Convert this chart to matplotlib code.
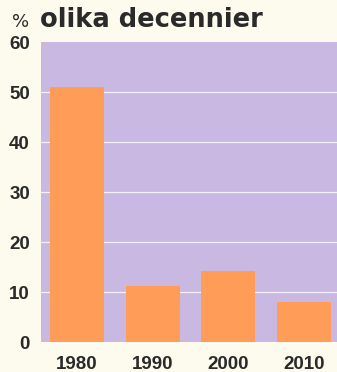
import numpy as np
import matplotlib
matplotlib.use("Agg")
from matplotlib import pyplot as plt

# andel per decennium (%)
years = ["1980", "1990", "2000", "2010"]
share = [51, 11.2, 14.2, 8.1]
yticks = [0, 10, 20, 30, 40, 50, 60]

bg = "#fcfbee"
lavender = "#c8b8e2"
orange = "#ff9d58"
ink = "#2a2a2a"

plt.rcParams["font.family"] = ["Liberation Sans", "DejaVu Sans"]

fig = plt.figure(figsize=(3.37, 3.72), dpi=100, facecolor=bg)
ax = fig.add_axes([0.1217, 0.0806, 0.8783, 0.8064])
ax.set_facecolor(lavender)

x = np.arange(len(years))
ax.bar(x, share, width=0.71, color=orange, zorder=3)

ax.set_ylim(0, 60)
ax.set_xlim(-0.476, 3.436)
ax.set_yticks(yticks)
ax.set_yticklabels([str(t) for t in yticks], fontsize=13.5, fontweight="bold", color=ink)
ax.set_xticks(x)
ax.set_xticklabels(years, fontsize=13.5, fontweight="bold", color=ink)
ax.tick_params(length=0)
ax.tick_params(axis="y", pad=8)
ax.tick_params(axis="x", pad=10)
for t in yticks[1:-1]:
    ax.axhline(t, color="white", lw=0.9, alpha=0.8, zorder=2)
for s in ax.spines.values():
    s.set_visible(False)

# rubrik: bredare typsnitt
fig.text(0.036, 0.928, "%", fontsize=13, family="DejaVu Sans", color=ink, va="baseline")
fig.text(0.119, 0.928, "olika decennier", fontsize=18.5, family="DejaVu Sans",
         fontweight="bold", color=ink, va="baseline")

fig.savefig("out.png", dpi=100, facecolor=bg)
